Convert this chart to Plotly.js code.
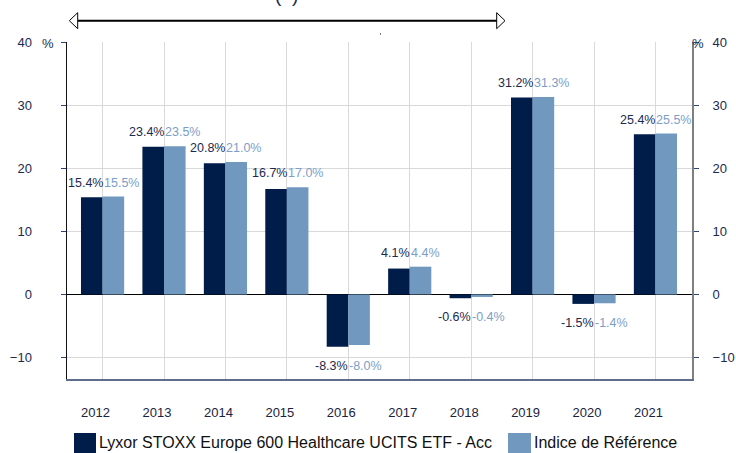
<!DOCTYPE html>
<html>
<head>
<meta charset="utf-8">
<script src="https://cdn.plot.ly/plotly-3.0.1.min.js"></script>
<style>
  html, body { margin: 0; padding: 0; background: #ffffff; }
  #chart { width: 736px; height: 453px; }
</style>
</head>
<body>
<div id="chart"></div>
<script>
// ---- data ----
const years = ["2012","2013","2014","2015","2016","2017","2018","2019","2020","2021"];
const fundName = "Lyxor STOXX Europe 600 Healthcare UCITS ETF - Acc";
const indexName = "Indice de Référence";
const fundValues = [15.4, 23.4, 20.8, 16.7, -8.3, 4.1, -0.6, 31.2, -1.5, 25.4];
const indexValues = [15.5, 23.5, 21.0, 17.0, -8.0, 4.4, -0.4, 31.3, -1.4, 25.5];
const yTicks = [-10, 0, 10, 20, 30, 40];

// ---- styles ----
const W = 736, H = 453;
const M = {l: 67, r: 44, t: 42, b: 74};
const darkBar = "#001d4a";
const lightBar = "#7199bf";
const darkText = "#1b2a4e";
const lightText = "#7d9ec7";
const font = "Liberation Sans, Arial, sans-serif";

const pw = W - M.l - M.r, ph = H - M.t - M.b;
const px2x = px => (px - M.l) / pw;
const py2y = py => (H - M.b - py) / ph;

const traces = [
  {type: "bar", x: years, y: fundValues, name: fundName, marker: {color: darkBar},
   hoverinfo: "skip", showlegend: false},
  {type: "bar", x: years, y: indexValues, name: indexName, marker: {color: lightBar},
   hoverinfo: "skip", showlegend: false}
];

const annotations = [];
years.forEach((yr, i) => {
  const a = fundValues[i], b = indexValues[i];
  const pos = Math.max(a, b) >= 0;
  const yv = pos ? Math.max(a, b) : Math.min(a, b);
  const ys = pos ? 14 : -19;
  // category axis: annotation x uses the category's serial index
  annotations.push({x: i, y: yv, xref: "x", yref: "y", text: a.toFixed(1) + "%",
    showarrow: false, xanchor: "right", yanchor: "middle", xshift: 2, yshift: ys,
    font: {family: font, size: 12.5, color: darkText}});
  annotations.push({x: i, y: yv, xref: "x", yref: "y", text: b.toFixed(1) + "%",
    showarrow: false, xanchor: "left", yanchor: "middle", xshift: -1, yshift: ys,
    font: {family: font, size: 12.5, color: lightText}});
});

// % unit labels
annotations.push({xref: "paper", yref: "paper", x: px2x(48), y: py2y(44), text: "%",
  showarrow: false, xanchor: "center", yanchor: "middle", font: {family: font, size: 13, color: darkText}});
annotations.push({xref: "paper", yref: "paper", x: px2x(698), y: py2y(44), text: "%",
  showarrow: false, xanchor: "center", yanchor: "middle", font: {family: font, size: 13, color: darkText}});
// top partial text
annotations.push({xref: "paper", yref: "paper", x: px2x(286), y: py2y(-4), text: "(  )",
  showarrow: false, xanchor: "center", yanchor: "middle", font: {family: font, size: 19, color: darkText}});

// legend texts
annotations.push({xref: "paper", yref: "paper", x: px2x(97), y: py2y(443), text: fundName,
  showarrow: false, xanchor: "left", yanchor: "middle", font: {family: font, size: 16, color: "#111111"}});
annotations.push({xref: "paper", yref: "paper", x: px2x(532), y: py2y(443), text: indexName,
  showarrow: false, xanchor: "left", yanchor: "middle", font: {family: font, size: 16, color: "#111111"}});

const shapes = [
  // double arrow line
  {type: "line", xref: "paper", yref: "paper", x0: px2x(77.5), x1: px2x(497), y0: py2y(20.7), y1: py2y(20.7),
   line: {color: "#000000", width: 2}},
  {type: "path", xref: "paper", yref: "paper",
   path: `M ${px2x(69.3)} ${py2y(20.7)} L ${px2x(77.7)} ${py2y(12.7)} L ${px2x(77.7)} ${py2y(28.7)} Z`,
   fillcolor: "#ffffff", line: {color: "#000000", width: 1}},
  {type: "path", xref: "paper", yref: "paper",
   path: `M ${px2x(505)} ${py2y(20.7)} L ${px2x(496.7)} ${py2y(12.7)} L ${px2x(496.7)} ${py2y(28.7)} Z`,
   fillcolor: "#ffffff", line: {color: "#000000", width: 1}},
  // tiny dot
  {type: "rect", xref: "paper", yref: "paper", x0: px2x(380), x1: px2x(381), y0: py2y(34.5), y1: py2y(33.5),
   fillcolor: "#000000", line: {width: 0}},
  // legend squares
  {type: "rect", xref: "paper", yref: "paper", x0: px2x(74), x1: px2x(96), y0: py2y(433), y1: py2y(454),
   fillcolor: darkBar, line: {width: 0}},
  {type: "rect", xref: "paper", yref: "paper", x0: px2x(508), x1: px2x(531), y0: py2y(433), y1: py2y(454),
   fillcolor: lightBar, line: {width: 0}}
];

const yRange = [-13.4, 40];

const layout = {
  width: W, height: H,
  margin: M,
  paper_bgcolor: "#ffffff", plot_bgcolor: "#ffffff",
  barmode: "group", bargap: 0.297, bargroupgap: 0,
  showlegend: false,
  font: {family: font, color: darkText},
  xaxis: {
    type: "category", range: [-0.579, 9.595],
    showgrid: true, gridcolor: "#d9d9d9", gridwidth: 1,
    showline: true, linecolor: "#5e6d8c", linewidth: 2,
    ticks: "", ticklabelstandoff: 20, ticklabelshift: -7,
    tickfont: {family: font, size: 13, color: "#1a2340"},
    zeroline: false, fixedrange: true
  },
  yaxis: {
    range: yRange, tickvals: yTicks,
    showgrid: true, gridcolor: "#d9d9d9", gridwidth: 1,
    zeroline: true, zerolinecolor: "#000000", zerolinewidth: 1,
    showline: true, linecolor: "#111111", linewidth: 1.5,
    ticks: "outside", ticklen: 5, tickcolor: "#2d4373", tickwidth: 1,
    ticklabelstandoff: 26,
    tickfont: {family: font, size: 13, color: darkText},
    fixedrange: true
  },
  yaxis2: {
    range: yRange, tickvals: yTicks, overlaying: "y", side: "right",
    showgrid: false, zeroline: false,
    showline: true, linecolor: "#7f7f7f", linewidth: 2,
    ticks: "outside", ticklen: 5, tickcolor: "#2d4373", tickwidth: 1,
    ticklabelstandoff: 11,
    tickfont: {family: font, size: 13, color: darkText},
    fixedrange: true
  },
  annotations: annotations,
  shapes: shapes
};

traces.push({type: "scatter", x: [years[0]], y: [0], yaxis: "y2", mode: "markers",
  marker: {opacity: 0}, hoverinfo: "skip", showlegend: false});

Plotly.newPlot("chart", traces, layout, {staticPlot: true, displayModeBar: false});
</script>
</body>
</html>
